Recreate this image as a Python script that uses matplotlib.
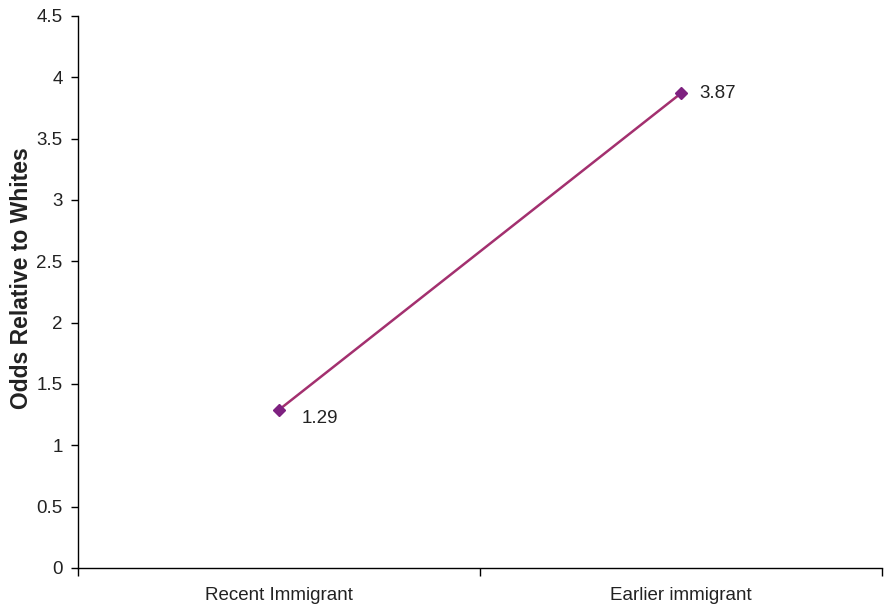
import matplotlib
matplotlib.use("Agg")
import matplotlib.pyplot as plt
from matplotlib.ticker import FixedLocator

plt.rcParams['font.family'] = ['Liberation Sans', 'DejaVu Sans']

categories = ["Recent Immigrant", "Earlier immigrant"]
values = [1.29, 3.87]
labels = ["1.29", "3.87"]
yticks = [0, 0.5, 1, 1.5, 2, 2.5, 3, 3.5, 4, 4.5]
ytick_labels = ["0", "0.5", "1", "1.5", "2", "2.5", "3", "3.5", "4", "4.5"]

text_color = '#222222'

fig = plt.figure(figsize=(8.85, 6.07), dpi=100)
ax = fig.add_axes([78/885, 39/607, 804/885, 552/607])

x = list(range(len(categories)))
ax.plot(x, values, color='#A3306F', linewidth=1.8, zorder=2)
ax.plot(x, values, linestyle='none', marker='D', markersize=6, color='#7E2180', zorder=3)

ax.annotate(labels[0], (x[0], values[0]), xytext=(16, -6), textcoords='offset points',
            fontsize=13.5, va='center', ha='left', color=text_color)
ax.annotate(labels[1], (x[1], values[1]), xytext=(13, 0), textcoords='offset points',
            fontsize=13.5, va='center', ha='left', color=text_color)

ax.set_xlim(-0.5, len(categories) - 0.5)
ax.set_ylim(0, 4.5)
ax.set_yticks(yticks)
ax.set_yticklabels(ytick_labels)
ax.set_xticks(x)
ax.set_xticklabels(categories, fontsize=13.5, color=text_color)
ax.tick_params(axis='x', which='major', length=0, pad=14)
ax.xaxis.set_minor_locator(FixedLocator([i - 0.5 for i in range(len(categories) + 1)]))
ax.tick_params(axis='x', which='minor', length=6, width=1, direction='out')
ax.tick_params(axis='y', length=5, width=1, direction='out', labelsize=13.5, pad=6,
               labelcolor=text_color)

for s in ['top', 'right']:
    ax.spines[s].set_visible(False)
ax.spines['left'].set_linewidth(1)
ax.spines['bottom'].set_linewidth(1)

ax.set_ylabel("Odds Relative to Whites", fontsize=16.5, fontweight='bold',
              color=text_color)
ax.yaxis.set_label_coords(-0.0555, 0.525)

fig.savefig("out.png", dpi=100)
